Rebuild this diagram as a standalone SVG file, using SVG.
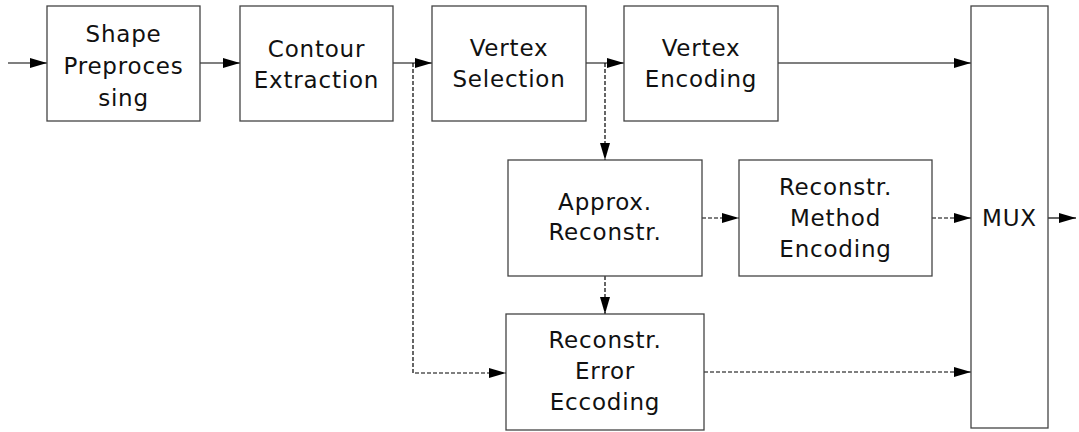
<svg xmlns="http://www.w3.org/2000/svg" width="1079" height="432" viewBox="0 0 1079 432">
<style>
.box{fill:#fff;stroke:#444;stroke-width:1.3}
.t{font-family:"DejaVu Sans",sans-serif;font-size:23px;letter-spacing:0.8px;fill:#111;text-anchor:middle}
.c{fill:none;stroke:#000;stroke-width:1.2}
.d{stroke-dasharray:4 2}
</style>
<defs>
<marker id="a" viewBox="0 0 17 10" refX="17" refY="5" markerWidth="17" markerHeight="10" markerUnits="userSpaceOnUse" orient="auto">
<path d="M0,0L17,5L0,10z" fill="#000"/>
</marker>
</defs>
<g id="connectors">
<line class="c" x1="8" y1="63" x2="47" y2="63" marker-end="url(#a)"/>
<line class="c" x1="200" y1="63" x2="240" y2="63" marker-end="url(#a)"/>
<line class="c" x1="393" y1="63" x2="432" y2="63" marker-end="url(#a)"/>
<line class="c" x1="586" y1="63" x2="624" y2="63" marker-end="url(#a)"/>
<line class="c" x1="778" y1="63" x2="971" y2="63" marker-end="url(#a)"/>
<line class="c" x1="1048" y1="218" x2="1076" y2="218" marker-end="url(#a)"/>
<polyline class="c d" points="413,63 413,373 506,373" marker-end="url(#a)"/>
<line class="c d" x1="605" y1="63" x2="605" y2="160" marker-end="url(#a)"/>
<line class="c d" x1="605" y1="276" x2="605" y2="314" marker-end="url(#a)"/>
<line class="c d" x1="702" y1="218" x2="739" y2="218" marker-end="url(#a)"/>
<line class="c d" x1="932" y1="218" x2="971" y2="218" marker-end="url(#a)"/>
<line class="c d" x1="704" y1="372" x2="971" y2="372" marker-end="url(#a)"/>
</g>
<g id="shape-preprocessing">
<rect class="box" x="47" y="6" width="153" height="115"/>
<text class="t" x="123.5" y="42">Shape</text>
<text class="t" x="123.5" y="74">Preproces</text>
<text class="t" x="123.5" y="106">sing</text>
</g>
<g id="contour-extraction">
<rect class="box" x="240" y="6" width="153" height="115"/>
<text class="t" x="316.5" y="57">Contour</text>
<text class="t" x="316.5" y="88">Extraction</text>
</g>
<g id="vertex-selection">
<rect class="box" x="432" y="6" width="154" height="115"/>
<text class="t" x="509" y="56">Vertex</text>
<text class="t" x="509" y="87">Selection</text>
</g>
<g id="vertex-encoding">
<rect class="box" x="624" y="6" width="154" height="115"/>
<text class="t" x="701" y="56">Vertex</text>
<text class="t" x="701" y="87">Encoding</text>
</g>
<g id="approx-reconstr">
<rect class="box" x="508" y="160" width="194" height="116"/>
<text class="t" x="605" y="210">Approx.</text>
<text class="t" x="605" y="240">Reconstr.</text>
</g>
<g id="reconstr-method-encoding">
<rect class="box" x="739" y="160" width="193" height="116"/>
<text class="t" x="835.5" y="195">Reconstr.</text>
<text class="t" x="835.5" y="226">Method</text>
<text class="t" x="835.5" y="257">Encoding</text>
</g>
<g id="reconstr-error-eccoding">
<rect class="box" x="506" y="314" width="198" height="116"/>
<text class="t" x="605" y="348">Reconstr.</text>
<text class="t" x="605" y="379">Error</text>
<text class="t" x="605" y="410">Eccoding</text>
</g>
<g id="mux">
<rect class="box" x="971" y="6" width="77" height="422"/>
<text class="t" x="1009.5" y="226">MUX</text>
</g>
</svg>
